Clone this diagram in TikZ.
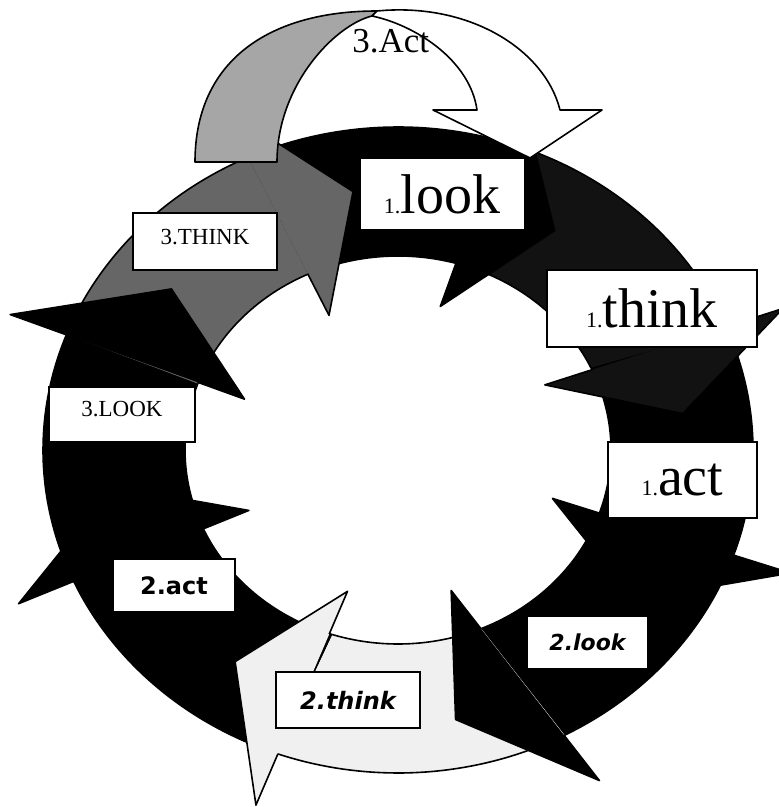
\documentclass[tikz,border=0pt]{standalone}
\usepackage{fontspec}
\setmainfont{Liberation Serif}
\newfontfamily\roundfont{DejaVu Sans}
\usetikzlibrary{calc}
\tikzset{
  lbl/.style={draw,fill=white,line width=1pt,inner sep=0pt},
  seg/.style={draw=black,line width=0.8pt,line join=round},
}
\begin{document}
\begin{tikzpicture}[x=0.5pt,y=-0.5pt]
  \useasboundingbox (0,0) rectangle (779,807);
  % black ring underneath
  \fill[black,even odd rule] (398,450) ellipse[x radius=355,y radius=323]
    (398,450) ellipse[x radius=213,y radius=194];
  % ring: shafts first
  \foreach \a/\ai/\b/\bi/\col in {115/115/73/74/black, 73/74/22/25/black!93, 22/25/-19/-19/black, -19/-19/-62/-67/black, -62/-67/-110/-108/black!6, -110/-108/-156/-156/black, -156/-156/-201/-200/black, -201/-200/-245/-245/black!60}
  {
    \fill[\col] plot[domain=\a:\b,samples=40] ({398+355*cos(\x)},{450-323*sin(\x)})
      -- plot[domain=\bi:\ai,samples=40] ({398+213*cos(\x)},{450-194*sin(\x)}) -- cycle;
    \draw[seg] plot[domain=\a:\b,samples=40] ({398+355*cos(\x)},{450-323*sin(\x)});
    \draw[seg] plot[domain=\bi:\ai,samples=40] ({398+213*cos(\x)},{450-194*sin(\x)});
  }
  % heads on top of the next shaft
  \foreach \bi/\bo/\t/\tr/\col in {75/73/57/0.81/black, 26/22/8/0.81/black!93, -19/-19/-35/0.81/black, -71/-61/-79/0.85/black, -108/-110/-125/0.8/black!6, -156/-156/-172/0.81/black, -200/-201/-218/0.81/black, -245/-245/-261/0.81/black!60}
  {
    \coordinate (ib) at ({398+0.46*355*cos(\bi)},{450-0.46*323*sin(\bi)});
    \coordinate (tp) at ({398+\tr*355*cos(\t)},{450-\tr*323*sin(\t)});
    \coordinate (ob) at ({398+1.17*355*cos(\bo)},{450-1.17*323*sin(\bo)});
    \fill[\col] (ib) -- (tp) -- (ob) -- cycle;
    \draw[seg] ($(ob)!0.8!(ib)$) -- (ib) -- (tp) -- (ob) -- ($(ob)!0.24!(ib)$);
  }
  % the 3.Act arch
  \filldraw[seg,fill=black!35] (195,162) .. controls (195,60) and (270,11) .. (377,11)
    -- (372,16) .. controls (335,25) and (277,85) .. (277,162) -- cycle;
  \filldraw[seg,fill=white] (377,11) .. controls (470,2) and (545,50) .. (560,110)
    -- (602,110) -- (530,158) -- (433,110) -- (477,110)
    .. controls (470,60) and (415,25) .. (372,16) -- cycle;
  \node[anchor=base west,inner sep=0pt] (act3) at (352,53) {\fontsize{17.5}{17.5}\selectfont 3.Act};

  \node[lbl,minimum width=82.5pt,minimum height=36pt] (lk1) at (442,194)
    {{\fontsize{11}{11}\selectfont 1.}{\fontsize{28}{28}\selectfont look}};
  \node[lbl,minimum width=105pt,minimum height=38.5pt] (th1) at (652,308.5)
    {{\fontsize{11}{11}\selectfont 1.}{\fontsize{28}{28}\selectfont think}\hspace{12pt}};
  \node[lbl,minimum width=74.5pt,minimum height=38pt] (ac1) at (682.5,480)
    {\raisebox{-6pt}{{\fontsize{11}{11}\selectfont 1.}{\fontsize{28}{28}\selectfont act}}\hspace{7pt}};
  \node[lbl,minimum width=60.5pt,minimum height=26.5pt] (lk2) at (587.5,642.5)
    {\roundfont\bfseries\itshape\fontsize{11}{11}\selectfont 2.look};
  \node[lbl,minimum width=72pt,minimum height=28pt] (th2) at (348,700)
    {\roundfont\bfseries\itshape\fontsize{12}{12}\selectfont 2.think\hspace{5pt}};
  \node[lbl,minimum width=61pt,minimum height=26.5pt] (ac2) at (174,585.5)
    {\roundfont\bfseries\fontsize{12}{12}\selectfont 2.act\hspace{7pt}};
  \node[lbl,minimum width=73pt,minimum height=27.5pt] (lk3) at (122,414.5)
    {\raisebox{6pt}{\fontsize{11.5}{11.5}\selectfont 3.LOOK}\hspace{11pt}};
  \node[lbl,minimum width=72pt,minimum height=28.5pt] (th3) at (205,241.5)
    {\raisebox{5pt}{\fontsize{11.5}{11.5}\selectfont 3.THINK}\hspace{5pt}};
\end{tikzpicture}
\end{document}
